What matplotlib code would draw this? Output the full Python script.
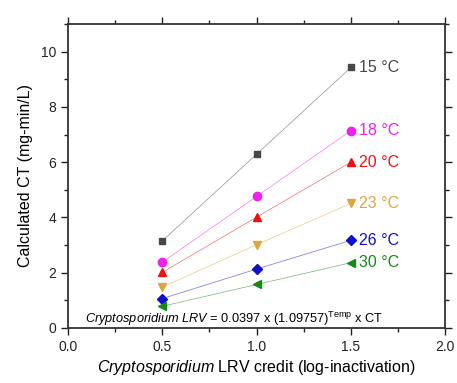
import matplotlib
matplotlib.use('Agg')
import matplotlib.pyplot as plt
from matplotlib.ticker import MultipleLocator

plt.rcParams['font.family'] = 'Liberation Sans'
plt.rcParams['mathtext.fontset'] = 'custom'
plt.rcParams['mathtext.rm'] = 'Liberation Sans'
plt.rcParams['mathtext.it'] = 'Liberation Sans:italic'

lrv = [0.5, 1.0, 1.5]
ct15 = [3.15, 6.29, 9.43]
ct18 = [2.38, 4.76, 7.14]
ct20 = [2.01, 4.01, 6.0]
ct23 = [1.48, 3.01, 4.51]
ct26 = [1.06, 2.13, 3.17]
ct30 = [0.78, 1.57, 2.36]
labels = ['15 °C', '18 °C', '20 °C', '23 °C', '26 °C', '30 °C']
colors = ['#474747', '#f020f0', '#ee1111', '#dca63c', '#1010c8', '#148a14']
markers = ['s', 'o', '^', 'v', 'D', '<']
sizes = [5, 6, 6, 6, 5, 6]

fig = plt.figure(figsize=(4.57, 3.83), dpi=100)
ax = fig.add_axes([0.149, 0.144, 0.825, 0.793])

series = [ct15, ct18, ct20, ct23, ct26, ct30]
for ct, lab, c, m, s in zip(series, labels, colors, markers, sizes):
    ax.plot(lrv, ct, '-', color=c, lw=0.5, alpha=0.6)
    ax.plot(lrv, ct, m, color=c, ms=s, mec=c)
    ax.text(lrv[-1] + 0.045, ct[-1], lab, color=c, fontsize=11.5, va='center', ha='left')

ax.text(0.09, 0.17, r'$\it{Cryptosporidium\ LRV}$ = 0.0397 x (1.09757)$^{\rm Temp}$ x CT',
        fontsize=9.2, va='baseline')

ax.set_xlim(0, 2.0)
ax.set_ylim(0, 11)
ax.xaxis.set_major_locator(MultipleLocator(0.5))
ax.xaxis.set_minor_locator(MultipleLocator(0.25))
ax.yaxis.set_major_locator(MultipleLocator(2))
ax.yaxis.set_minor_locator(MultipleLocator(1))
ax.tick_params(which='both', top=True, right=True, labeltop=False, labelright=False,
               direction='out', width=1.0, labelsize=10, colors='#222222')
ax.tick_params(which='major', length=5)
ax.tick_params(which='minor', length=3)
for sp in ax.spines.values():
    sp.set_linewidth(1.3)
    sp.set_color('#333333')

ax.set_xlabel(r'$\it{Cryptosporidium}$ LRV credit (log-inactivation)', fontsize=11.5, labelpad=3)
ax.set_ylabel('Calculated CT (mg-min/L)', fontsize=11.5, labelpad=6)

fig.savefig('out.png', dpi=100)
